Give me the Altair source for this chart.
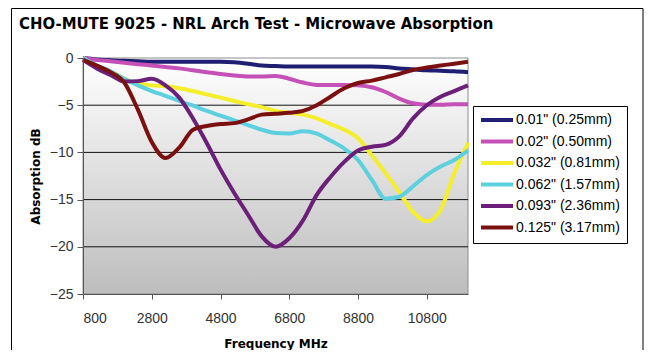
import altair as alt
import pandas as pd

# ---------------- data ----------------
freq = [800, 1200, 1600, 2000, 2400, 2800, 3200, 3600, 4000, 4400, 4800, 5200, 5600, 6000,
        6400, 6800, 7200, 7600, 8000, 8400, 8800, 9200, 9600, 10000, 10400, 10800, 11200,
        11600, 12000]

s_010 = [0.0, -0.15, -0.25, -0.3, -0.35, -0.4, -0.4, -0.4, -0.4, -0.4, -0.4, -0.45, -0.6, -0.8,
         -0.85, -0.9, -0.9, -0.9, -0.9, -0.9, -0.9, -0.9, -0.95, -1.1, -1.2, -1.3, -1.35, -1.4, -1.5]
s_020 = [0.0, -0.2, -0.35, -0.5, -0.65, -0.8, -0.95, -1.1, -1.3, -1.5, -1.7, -1.85, -1.95, -1.95,
         -1.9, -2.2, -2.6, -2.85, -2.85, -2.85, -2.9, -3.1, -3.6, -4.3, -4.8, -4.95, -4.95, -4.9, -4.9]
s_032 = [0.0, -0.9, -1.4, -2.2, -2.7, -2.9, -3.0, -3.2, -3.5, -3.85, -4.2, -4.55, -4.9, -5.2,
         -5.6, -5.8, -6.0, -6.4, -7.0, -7.6, -8.5, -10.3, -12.2, -14.2, -16.3, -17.3, -16.1, -12.2, -9.0]
s_062 = [0.0, -0.8, -1.4, -2.2, -2.9, -3.5, -4.0, -4.55, -5.05, -5.6, -6.1, -6.6, -7.1, -7.6,
         -7.95, -8.0, -7.75, -8.0, -8.75, -9.6, -10.8, -12.9, -14.9, -14.7, -13.6, -12.4, -11.5, -10.8, -9.8]
s_093 = [-0.2, -1.1, -1.8, -2.5, -2.45, -2.2, -2.9, -4.2, -6.4, -9.0, -11.8, -14.3, -16.6, -18.9,
         -20.0, -19.1, -17.2, -14.5, -12.6, -11.0, -9.8, -9.4, -9.2, -8.3, -6.4, -5.0, -4.1, -3.5, -2.9]
s_125 = [-0.2, -0.8, -1.5, -2.6, -5.5, -8.9, -10.6, -9.5, -7.6, -7.2, -7.0, -6.9, -6.5, -6.0,
         -5.9, -5.8, -5.6, -5.0, -4.1, -3.2, -2.65, -2.4, -2.05, -1.7, -1.27, -1.0, -0.8, -0.6, -0.4]

series_labels = ['0.01" (0.25mm)', '0.02" (0.50mm)', '0.032" (0.81mm)',
                 '0.062" (1.57mm)', '0.093" (2.36mm)', '0.125" (3.17mm)']
series_values = [s_010, s_020, s_032, s_062, s_093, s_125]
series_colors = ["#1e1e72", "#c450b8", "#f4ef2a", "#5cd0df", "#6c1f78", "#7b1010"]

x_ticks = [800, 2800, 4800, 6800, 8800, 10800]
y_ticks = [0, -5, -10, -15, -20, -25]
grid_vals = [-5, -10, -15, -20]

title_text = "CHO-MUTE 9025 - NRL Arch Test - Microwave Absorption"

# ---------------- tables ----------------
rows = []
for lab, vals in zip(series_labels, series_values):
    for f, v in zip(freq, vals):
        rows.append({"freq": f, "dB": v, "series": lab})
df = pd.DataFrame(rows)
grid_df = pd.DataFrame({"dB": grid_vals})

W, H = 385, 236

x_scale = alt.Scale(domain=[800, 12000], nice=False, zero=False)
y_scale = alt.Scale(domain=[-25, 0], nice=False, zero=False)

x_axis = alt.Axis(values=x_ticks, grid=False, title="Frequency MHz", format="d",
                  labelFont="Liberation Sans", labelFontSize=14, labelColor="#333333",
                  labelPadding=12, tickSize=5, tickColor="#555555", domainColor="#555555",
                  titleFont="DejaVu Sans", titleFontSize=12, titleFontWeight="bold",
                  titleColor="black", titleY=53, titleBaseline="alphabetic", zindex=1)
y_axis = alt.Axis(values=y_ticks, grid=False, title="Absorption dB",
                  labelFont="Liberation Sans", labelFontSize=14, labelColor="#333333",
                  labelPadding=4, tickSize=6, tickColor="#555555", domainColor="#555555",
                  titleFont="DejaVu Sans", titleFontSize=12, titleFontWeight="bold",
                  titleColor="black", titleX=-44, titleY=H / 2, titleBaseline="alphabetic",
                  titleAlign="center", titleAngle=270, zindex=1)

bg = alt.Chart(alt.Data(values=[{}])).mark_rect(
    color=alt.Gradient(gradient="linear",
                       stops=[alt.GradientStop(color="#ffffff", offset=0),
                              alt.GradientStop(color="#bdbdbd", offset=1)],
                       x1=0, x2=0, y1=0, y2=1),
    stroke="#8c8c8c", strokeWidth=1,
).encode(x=alt.value(0), x2=alt.value(W), y=alt.value(0), y2=alt.value(H))

grid = alt.Chart(grid_df).mark_rule(color="#111111", strokeWidth=1).encode(
    y=alt.Y("dB:Q", scale=y_scale, axis=y_axis)
)

lines = alt.Chart(df).mark_line(strokeWidth=4, interpolate="monotone").encode(
    x=alt.X("freq:Q", scale=x_scale, axis=x_axis),
    y=alt.Y("dB:Q", scale=y_scale, axis=y_axis),
    color=alt.Color("series:N", sort=series_labels,
                    scale=alt.Scale(domain=series_labels, range=series_colors),
                    legend=alt.Legend(orient="none", legendX=390, legendY=48, title=None,
                                      symbolType="M-1.5,0H6.5", symbolSize=64,
                                      symbolStrokeWidth=4, labelFont="Liberation Sans",
                                      labelFontSize=14, labelColor="black", labelOffset=22,
                                      rowPadding=5.5, padding=7, strokeColor="black",
                                      fillColor="white", cornerRadius=0)),
)

border = alt.Chart(alt.Data(values=[{}])).mark_rect(
    fillOpacity=0, stroke="black", strokeWidth=1
).encode(x=alt.value(-71.5), x2=alt.value(560), y=alt.value(-49.5), y2=alt.value(320))

title = alt.Chart(alt.Data(values=[{}])).mark_text(
    text=title_text, align="left", baseline="alphabetic",
    font="DejaVu Sans Condensed, Liberation Sans Narrow, DejaVu Sans", fontSize=16.6,
    fontWeight="bold", color="black",
).encode(x=alt.value(-64), y=alt.value(-29.5))

chart = alt.layer(bg, grid, lines, border, title).properties(
    width=W, height=H,
    autosize=alt.AutoSizeParams(type="none"),
    padding={"left": 75, "top": 50, "right": 176, "bottom": 56},
).configure_view(stroke=None)

chart.save("out.html", embed_options={"renderer": "svg", "actions": False})
